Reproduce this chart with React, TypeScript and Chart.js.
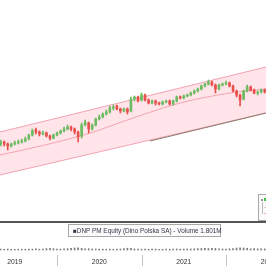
import React, { useEffect, useRef } from "react";
import { Chart, registerables } from "chart.js";
Chart.register(...registerables);

// X axis is "months since Jan 2019"; candles are half-monthly periods
const YEARS = ["2019", "2020", "2021", "2022"];
const YEAR_START_MONTHS = [0, 12, 24, 36];
const FIRST_PERIOD_MONTH = 4;
const PERIOD_STEP = 0.5;
const X_MIN = 3.905;
const X_MAX = 41.68;

const opens = [124,132,124,116,124,128,132,136,144,160, 180,172,164,168,156,148,160,168,176,184, 192,184,172,156,200,208,184,200,224,232, 244,252,268,276,264,256,264,256,304,312, 300,320,300,288,296,288,284,292,296,284, 296,312,308,316,320,328,336,344,356,364, 372,360,344,360,364,368,356,336,320,304, 336,352,340,328,332,340];
const closes = [132,124,116,124,128,132,136,144,160,176, 172,164,168,156,148,160,168,176,184,192, 184,172,152,200,212,184,200,224,232,244, 252,268,272,264,256,264,252,304,312,296, 320,300,288,296,288,284,292,296,284,296, 312,308,316,320,328,336,344,356,364,372, 360,344,360,364,368,356,336,320,300,336, 352,340,328,332,340,332];
const highs = [140,136,128,128,136,140,144,152,164,184, 188,176,176,172,160,164,172,180,192,200, 196,188,176,208,220,212,204,228,240,248, 260,276,280,280,268,268,268,312,316,316, 328,324,304,300,300,292,296,300,300,300, 316,316,320,324,332,340,348,360,368,380, 376,364,364,368,376,372,360,340,324,340, 360,356,344,336,344,344];
const lows = [116,116,100,112,120,124,128,132,140,156, 164,156,160,152,140,144,156,164,172,180, 176,164,132,148,196,168,180,196,220,228, 240,248,260,260,248,252,244,252,296,292, 296,296,284,284,280,280,280,288,280,280, 292,304,304,312,316,324,332,340,352,360, 356,328,340,356,360,352,332,312,276,300, 332,336,324,320,328,328];
const volumes = [1.4,1.2,1.6,1.3,1.2,1.5,1.3,1.4,1.6,1.5, 1.8,1.4,1.6,2.4,2.8,2.2,1.5,1.6,1.9,2.2, 2.6,3.4,3.8,2.9,2.0,2.2,1.8,1.6,1.5,1.4, 1.3,1.6,1.4,1.5,1.7,2.2,3.0,2.6,1.8,1.5, 1.4,1.6,1.3,1.4,1.5,1.3,1.2,1.6,1.4,1.5, 1.7,1.5,1.6,1.8,1.6,2.0,2.2,2.5,2.8,2.4, 3.0,2.6,2.0,1.8,1.6,2.0,2.4,3.2,3.8,3.4, 2.6,2.0,2.2,1.9,2.1,1.801];

const channelMonths = [3.905, 41.68];
const channelUpper = [172, 432];
const channelLower = [0, 248];
const centerMonths = [3.905, 10.3, 16.7, 22.8, 29.5, 36.6, 41.68];
const centerValues = [80, 120, 168, 228, 288, 328, 344];
const trendMonths = [25.2, 41.68];
const trendValues = [136, 248];

const UP = "#6dbb62";
const DOWN = "#e9504c";
const PINK = "#f3a3b2";

export default function App() {
  const ref = useRef<HTMLCanvasElement>(null);
  useEffect(() => {
    if (!ref.current) return;
    const px = (i: number) => FIRST_PERIOD_MONTH + i * PERIOD_STEP;
    const colors = closes.map((c, i) => (c >= opens[i] ? UP : DOWN));
    const overlay = {
      id: "overlay",
      afterDraw(chart: any) {
        const ctx = chart.ctx;
        const xs = chart.scales.x;
        ctx.save();
        ctx.fillStyle = "#555555";
        ctx.fillRect(0, 221, 266, 2);
        ctx.strokeStyle = "#c4c4c4";
        ctx.lineWidth = 1;
        ctx.fillStyle = "#333333";
        ctx.font = "6.8px 'Liberation Sans', Arial, sans-serif";
        ctx.textAlign = "center";
        ctx.textBaseline = "middle";
        YEAR_START_MONTHS.forEach((m, k) => {
          const p = Math.round(xs.getPixelForValue(m)) + 0.5;
          ctx.beginPath();
          ctx.moveTo(p, 255);
          ctx.lineTo(p, 266);
          ctx.stroke();
          ctx.fillText(YEARS[k], xs.getPixelForValue(m + 6), 262);
        });
        ctx.restore();
      },
    };
    const chart = new Chart(ref.current, {
      type: "line",
      data: {
        datasets: [
          {
            data: channelMonths.map((m, i) => ({ x: m, y: channelUpper[i] })),
            borderColor: PINK, borderWidth: 1, pointRadius: 0,
            fill: 1, backgroundColor: "rgba(255,190,202,0.42)", order: 10,
          },
          {
            data: channelMonths.map((m, i) => ({ x: m, y: channelLower[i] })),
            borderColor: PINK, borderWidth: 1, pointRadius: 0, fill: false, order: 10,
          },
          {
            data: centerMonths.map((m, i) => ({ x: m, y: centerValues[i] })),
            borderColor: PINK, borderWidth: 1, pointRadius: 0, fill: false,
            cubicInterpolationMode: "monotone", order: 9,
          },
          {
            data: trendMonths.map((m, i) => ({ x: m, y: trendValues[i] })),
            borderColor: "#8a7a6c", borderWidth: 1, pointRadius: 0, fill: false, order: 8,
          },
          {
            type: "bar",
            data: volumes.map((v, i) => ({ x: px(i), y: v })),
            yAxisID: "yv", backgroundColor: "#7a7a7a", barThickness: 1,
            grouped: false, order: 7,
          },
          {
            type: "bar",
            data: highs.map((h, i) => ({ x: px(i), y: [lows[i], h] })),
            backgroundColor: colors, barThickness: 1, grouped: false, order: 2,
          },
          {
            type: "bar",
            data: opens.map((o, i) => ({ x: px(i), y: [o, closes[i]] })),
            backgroundColor: colors, barThickness: 2, grouped: false, order: 1,
          },
        ] as any,
      },
      options: {
        animation: false,
        responsive: false,
        devicePixelRatio: 1,
        layout: { padding: 0 },
        events: [],
        plugins: {
          legend: { display: false },
          tooltip: { enabled: false },
          filler: { drawTime: "beforeDatasetsDraw" } as any,
        },
        scales: {
          x: { type: "linear", min: X_MIN, max: X_MAX, display: false, offset: false },
          y: { type: "linear", min: -364, max: 700, display: false },
          yv: { type: "linear", min: -26.6, max: 416, display: false },
        },
      } as any,
      plugins: [overlay],
    });
    return () => chart.destroy();
  }, []);

  return (
    <div style={{ position: "fixed", left: 0, top: 0, width: 266, height: 266, background: "#fff", overflow: "hidden" }}>
      <canvas ref={ref} width={266} height={266} style={{ display: "block" }} />
      <div
        style={{
          position: "absolute", left: 68, top: 224, width: 153, height: 13,
          border: "1px solid #a8a8a8", background: "#fbfbfb", boxSizing: "border-box",
          font: "6.4px 'Liberation Sans', Arial, sans-serif", color: "#34384a",
          lineHeight: "11px", paddingLeft: 4, whiteSpace: "nowrap",
        }}
      >
        ■DNP PM Equity (Dino Polska SA) - Volume 1.801M
      </div>
      <div
        style={{
          position: "absolute", left: 258, top: 194, width: 20, height: 27,
          border: "1px solid #a8a8a8", background: "#fbfbfb", boxSizing: "border-box",
        }}
      >
        <div style={{ position: "absolute", left: 2, top: 4, width: 2, height: 2, background: "#999" }} />
        <div style={{ position: "absolute", left: 5, top: 3, width: 3, height: 3, background: "#3cc23c" }} />
        <div style={{ position: "absolute", left: 3, top: 7, width: 1, height: 12, background: "#bbb" }} />
        <div style={{ position: "absolute", left: 5, top: 12, width: 2, height: 1, background: "#ccc" }} />
        <div style={{ position: "absolute", left: 5, top: 18, width: 2, height: 1, background: "#f3b3bd" }} />
      </div>
    </div>
  );
}
